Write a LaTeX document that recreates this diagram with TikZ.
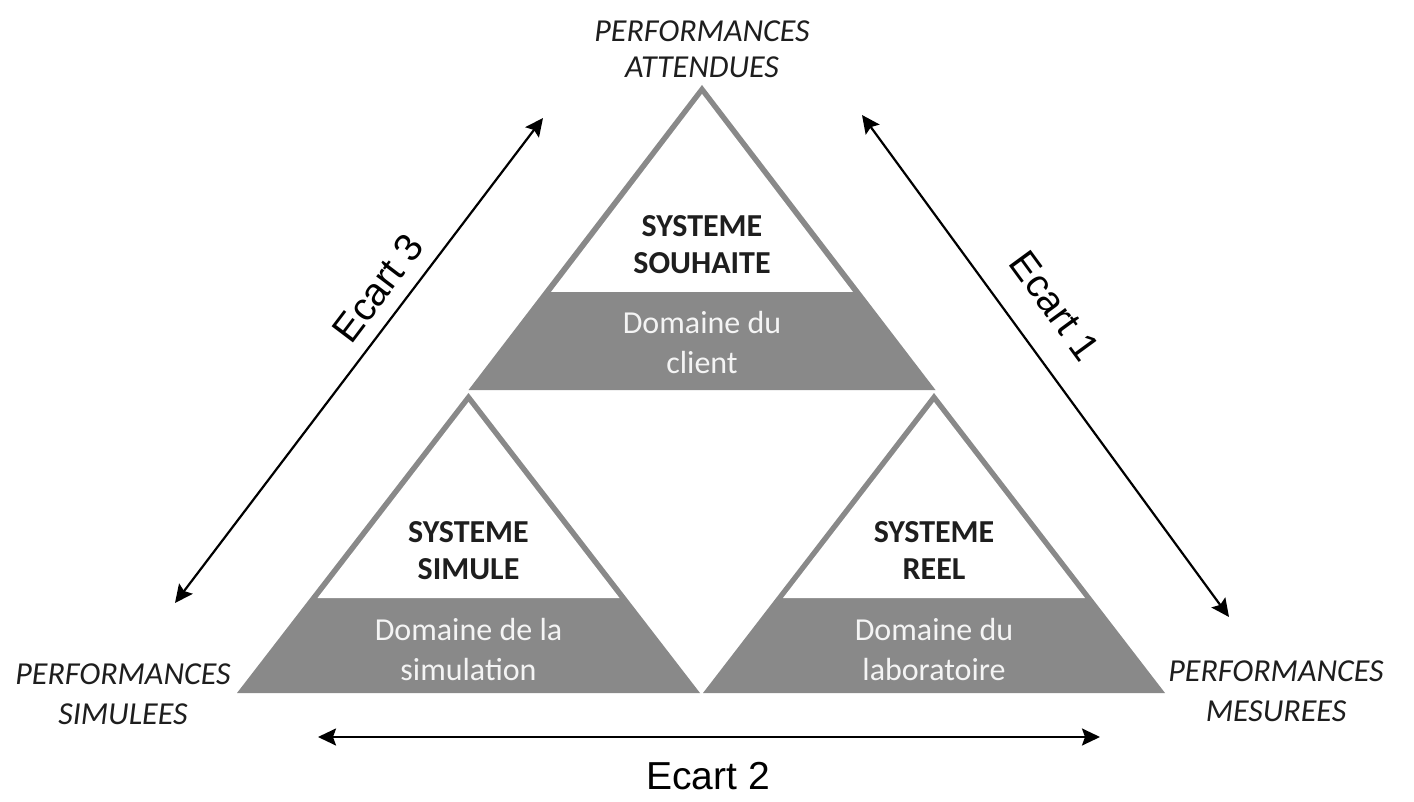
\documentclass[tikz,border=0pt]{standalone}
\usepackage{fontspec}
\setmainfont{Carlito}
\newfontfamily\arialf{Liberation Sans}
\usetikzlibrary{arrows.meta}
\definecolor{tgray}{HTML}{898989}
\definecolor{tdark}{HTML}{1E1E1E}
\definecolor{twhite}{HTML}{F4F4F4}
\begin{document}
\begin{tikzpicture}[x=0.5pt,y=-0.5pt,
  sysbold/.style={font=\fontsize{16}{18.5}\selectfont\bfseries, text=tdark, align=center, inner sep=0pt},
  domtext/.style={font=\fontsize{16}{20}\selectfont, text=twhite, align=center, inner sep=0pt},
  perflabel/.style={font=\fontsize{16}{18}\selectfont\itshape, text=tdark, align=center, inner sep=0pt},
  perflabelb/.style={font=\fontsize{16}{20}\selectfont\itshape, text=tdark, align=center, inner sep=0pt},
  ecartlabel/.style={font=\arialf\fontsize{19.5}{22}\selectfont, text=black, inner sep=0pt},
  gaparrow/.style={{Stealth[length=9pt,width=8.5pt,inset=1.5pt]}-{Stealth[length=9pt,width=8.5pt,inset=1.5pt]}, line width=1.1pt, black}
]
\useasboundingbox (0,0) rectangle (1414,802);
\fill[white] (0,0) rectangle (1414,802);

% top triangle
\fill[tgray] (702,85) -- (935.5,390) -- (468.5,390) -- cycle;
\fill[white] (702,94) -- (853,292) -- (551,292) -- cycle;
% left triangle
\fill[tgray] (468.5,393) -- (700,693) -- (237,693) -- cycle;
\fill[white] (468.5,402) -- (619.5,598) -- (317.5,598) -- cycle;
% right triangle
\fill[tgray] (934,393) -- (1165,693) -- (703,693) -- cycle;
\fill[white] (934,402) -- (1085,598) -- (783,598) -- cycle;

% texts in triangles
\node[sysbold] (souhaite) at (702,244.5) {SYSTEME\\SOUHAITE};
\node[domtext] (client) at (702,343) {Domaine du\\client};
\node[sysbold] (simule) at (468.5,551) {SYSTEME\\SIMULE};
\node[domtext] (simulation) at (468.5,650) {Domaine de la\\simulation};
\node[sysbold] (reel) at (934,551) {SYSTEME\\REEL};
\node[domtext] (labo) at (934,650) {Domaine du\\laboratoire};

% performance labels
\node[perflabel] (attendues) at (702,49.7) {PERFORMANCES\\ATTENDUES};
\node[perflabelb] (simulees) at (123,694.7) {PERFORMANCES\\SIMULEES};
\node[perflabelb] (mesurees) at (1276,691.7) {PERFORMANCES\\MESUREES};

% arrows
\coordinate (e3a) at (175,603);
\coordinate (e3b) at (543,118);
\coordinate (e1a) at (862,115);
\coordinate (e1b) at (1229,617);
\coordinate (e2a) at (318,737);
\coordinate (e2b) at (1100,737);
\draw[gaparrow] (e3a) -- (e3b);
\draw[gaparrow] (e1a) -- (e1b);
\draw[gaparrow] (e2a) -- (e2b);

% ecart labels
\node[ecartlabel, rotate=52.8] (ecart3) at (378,288) {Ecart 3};
\node[ecartlabel, rotate=-53.8] (ecart1) at (1055,306) {Ecart 1};
\node[ecartlabel] (ecart2) at (708,776.5) {Ecart 2};
\end{tikzpicture}
\end{document}
